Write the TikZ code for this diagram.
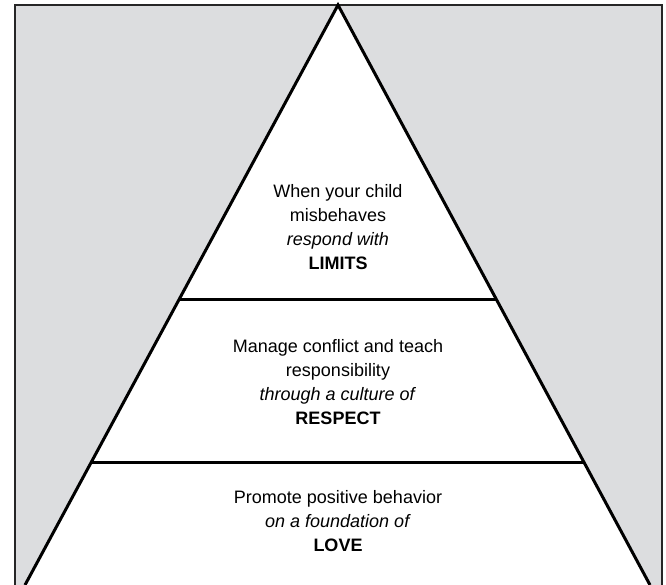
\documentclass[tikz,border=0pt]{standalone}
\usepackage{fontspec}
\setmainfont{Liberation Sans}
\usetikzlibrary{calc}
\definecolor{backdrop}{RGB}{220,221,223}
\tikzset{every picture/.style={/utils/exec={\fontsize{18}{24}\selectfont}}}
\tikzset{tier/.style={align=center, inner sep=0pt}}

\begin{document}
\begin{tikzpicture}[x=1pt,y=-1pt]
  \useasboundingbox (0,0) rectangle (666,585);

  \fill [backdrop] (14.5,5.5) rectangle (661.5,585);
  \draw [line width=2pt, black!85] (14.5,585) -- (14.5,5.5) -- (661.5,5.5) -- (661.5,585);

  \coordinate (apex) at (338,5);
  \coordinate (left) at (25,585);
  \coordinate (right) at (650,585);
  \fill [white] (left) -- (apex) -- (right) -- cycle;
  \draw [line width=3pt] (left) -- (apex) -- (right);

  \foreach \t in {0.507,0.789} \draw [line width=3pt] ($(apex)!\t!(left)$) -- ($(apex)!\t!(right)$);

  \node [tier] (limits) at (338,227) {When your child\\misbehaves\\\textit{respond with}\\\textbf{LIMITS}};
  \node [tier] (respect) at (338,382) {Manage conflict and teach\\responsibility\\\textit{through a culture of}\\\textbf{RESPECT}};
  \node [tier] (love) at (338,521) {Promote positive behavior\\\textit{on a foundation of}\\\textbf{LOVE}};

\end{tikzpicture}
\end{document}
